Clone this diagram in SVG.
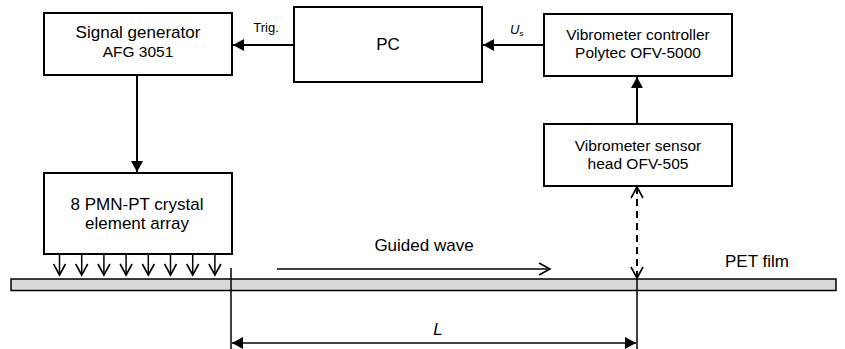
<svg xmlns="http://www.w3.org/2000/svg" width="845" height="349" viewBox="0 0 845 349">
<style>
.box{fill:#fff;stroke:#000;stroke-width:2}
.t{font-family:"Liberation Sans",Arial,sans-serif;font-size:15.5px;fill:#000;text-anchor:middle}
.big{font-size:17px}
.ln{stroke:#000;stroke-width:2;fill:none}
.thin{stroke:#000;stroke-width:1.5;fill:none}
</style>
<defs>
<marker id="fa" markerWidth="12" markerHeight="12" refX="11" refY="6" orient="auto" markerUnits="userSpaceOnUse">
<path d="M0,0 L11,6 L0,12 Z" fill="#000"/>
</marker>
<marker id="oa" markerWidth="14" markerHeight="14" refX="12" refY="7" orient="auto-start-reverse" markerUnits="userSpaceOnUse">
<path d="M1,1 L12,7 L1,13" fill="none" stroke="#000" stroke-width="1.6"/>
</marker>
</defs>
<rect x="11" y="279" width="825" height="11.5" fill="#d9d9d9" stroke="#000" stroke-width="1.5"/>
<g id="sg"><rect class="box" x="44" y="13" width="188" height="62"/><text class="t big" x="138" y="38">Signal generator</text><text class="t" x="138" y="57">AFG 3051</text></g>
<g id="pc"><rect class="box" x="294" y="7" width="188" height="75"/><text class="t big" x="388" y="50">PC</text></g>
<g id="ctrl"><rect class="box" x="544" y="14" width="188" height="62"/><text class="t" x="638" y="40">Vibrometer controller</text><text class="t" x="638" y="58">Polytec OFV-5000</text></g>
<g id="head"><rect class="box" x="544" y="124" width="188" height="62"/><text class="t" x="638" y="151">Vibrometer sensor</text><text class="t" x="638" y="169">head OFV-505</text></g>
<g id="arr"><rect class="box" x="44" y="173" width="188" height="81"/><text class="t big" x="137" y="210">8 PMN-PT crystal</text><text class="t big" x="137" y="229">element array</text></g>
<g id="connectors">
<line class="ln" x1="294" y1="45" x2="233" y2="45" marker-end="url(#fa)"/>
<line class="ln" x1="544" y1="45" x2="483" y2="45" marker-end="url(#fa)"/>
<line class="ln" x1="637" y1="124" x2="637" y2="77" marker-end="url(#fa)"/>
<line class="ln" x1="137" y1="75" x2="137" y2="172" marker-end="url(#fa)"/>
<line class="ln" x1="637" y1="187" x2="637" y2="278" stroke-dasharray="7,5" marker-start="url(#oa)" marker-end="url(#oa)"/>
<line class="thin" x1="277" y1="269" x2="550" y2="269" marker-end="url(#oa)"/>
<line class="thin" x1="59.5" y1="255" x2="59.5" y2="275" marker-end="url(#oa)"/>
<line class="thin" x1="81.7" y1="255" x2="81.7" y2="275" marker-end="url(#oa)"/>
<line class="thin" x1="103.9" y1="255" x2="103.9" y2="275" marker-end="url(#oa)"/>
<line class="thin" x1="126.1" y1="255" x2="126.1" y2="275" marker-end="url(#oa)"/>
<line class="thin" x1="148.3" y1="255" x2="148.3" y2="275" marker-end="url(#oa)"/>
<line class="thin" x1="170.5" y1="255" x2="170.5" y2="275" marker-end="url(#oa)"/>
<line class="thin" x1="192.7" y1="255" x2="192.7" y2="275" marker-end="url(#oa)"/>
<line class="thin" x1="214.9" y1="255" x2="214.9" y2="275" marker-end="url(#oa)"/>
<line class="thin" x1="231" y1="268" x2="231" y2="349"/>
<line class="thin" x1="637" y1="279" x2="637" y2="349"/>
<line class="thin" x1="320" y1="343" x2="232" y2="343" marker-end="url(#fa)"/>
<line class="thin" x1="320" y1="343" x2="636" y2="343" marker-end="url(#fa)"/>
</g>
<text class="t" x="266" y="32" style="font-size:13px">Trig.</text>
<text x="510" y="34" style="font-family:'Liberation Sans',Arial,sans-serif;font-size:13px;font-style:italic">U<tspan style="font-style:normal;font-size:8px" dy="2">s</tspan></text>
<text class="t big" x="424" y="251">Guided wave</text>
<text class="t big" x="757" y="267">PET film</text>
<text class="t big" x="438" y="335" style="font-style:italic">L</text>
</svg>
